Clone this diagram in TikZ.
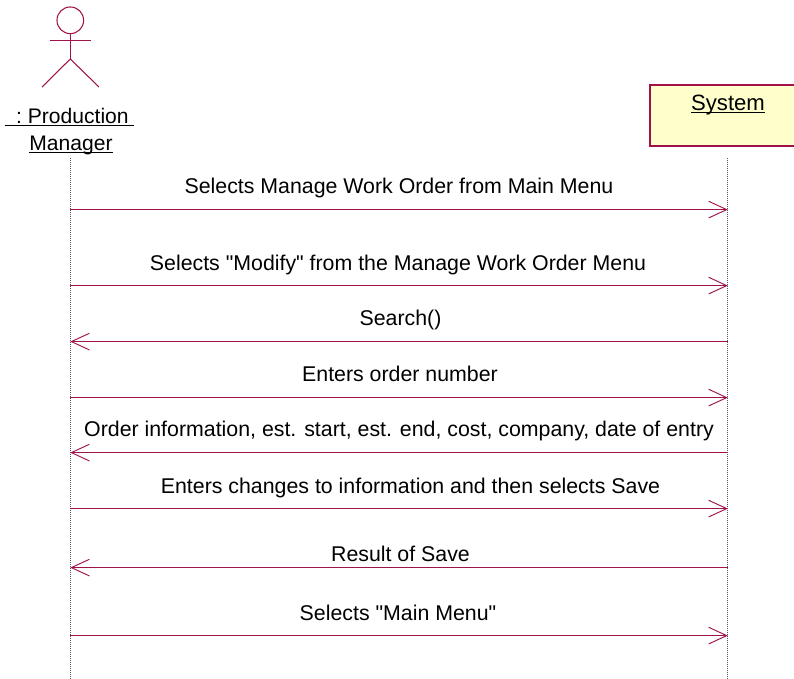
\documentclass[tikz,border=0pt]{standalone}
\usepackage{fontspec}
\newfontfamily\umlfont{Liberation Sans}
\usetikzlibrary{arrows.meta,calc}
\definecolor{umlred}{HTML}{A0134A}
\definecolor{boxfill}{HTML}{FFFFCC}
\definecolor{lifegray}{HTML}{555555}
\tikzset{
  x=0.75pt,y=-0.75pt,
  umlline/.style={draw=umlred,line width=0.8pt},
  lifeline/.style={draw=lifegray,line width=0.7pt,dash pattern=on 0.75pt off 0.75pt},
  msg/.style={draw=umlred,line width=0.8pt,-{Straight Barb[length=13.5pt,width=12.5pt,line width=0.7pt]}},
  msglabel/.style={font=\umlfont\fontsize{16pt}{18pt}\selectfont,inner sep=0pt,anchor=base},
  headlabel/.style={font=\umlfont\fontsize{15.8pt}{18pt}\selectfont,inner sep=0pt,anchor=base,align=center},
}
\begin{document}
\begin{tikzpicture}
\useasboundingbox (0,0) rectangle (794,679);
% actor
\node[circle,umlline,minimum size=20pt,inner sep=0pt] (head) at (70.3,20.3) {};
\coordinate (neck) at (head.south);
\coordinate (hip) at (70.3,59);
\coordinate (armL) at (50,40.5);
\coordinate (armR) at (91,40.5);
\coordinate (legL) at (42,87);
\coordinate (legR) at (99,87);
\draw[umlline] (neck) -- (hip);
\draw[umlline] (armL) -- (armR);
\draw[umlline] (legL) -- (hip) -- (legR);
\node[headlabel] (pm1) at (69.5,123) {\underline{\smash{\ \ :\ Production\ }}};
\node[headlabel] (pm2) at (71,150) {\underline{\smash{Manager}}};
% system box
\path[fill=boxfill] (650,85) rectangle (800,146);
\draw[umlline,line width=1pt] (800,85) -- (650,85) -- (650,146) -- (800,146);
\node[headlabel,font=\umlfont\fontsize{16.6pt}{18pt}\selectfont] (sys) at (728,110) {\underline{\smash{System}}};
% lifelines
\coordinate (a0) at (70.3,158);
\coordinate (a1) at (70.3,679);
\coordinate (s0) at (727.8,158);
\coordinate (s1) at (727.8,679);
\draw[lifeline] (a0) -- (a1);
\draw[lifeline] (s0) -- (s1);
% messages
\foreach \n/\y in {1/209.6,2/285.6,3/341.6,4/397.6,5/452.6,6/508.6,7/567.6,8/635.6}{
  \coordinate (A\n) at (70.3,\y);
  \coordinate (S\n) at (727.8,\y);
}
\draw[msg] (A1) -- (S1);
\draw[msg] (A2) -- (S2);
\draw[msg] (S3) -- (A3);
\draw[msg] (A4) -- (S4);
\draw[msg] (S5) -- (A5);
\draw[msg] (A6) -- (S6);
\draw[msg] (S7) -- (A7);
\draw[msg] (A8) -- (S8);
\node[msglabel] (m1) at (399,193) {Selects Manage Work Order from Main Menu};
\node[msglabel] (m2) at (398,270) {Selects "Modify" from the Manage Work Order Menu};
\node[msglabel] (m3) at (400.5,325) {Search()};
\node[msglabel] (m4) at (400,381) {Enters order number};
\node[msglabel] (m5) at (399,436) {Order information, est. start, est. end, cost, company, date of entry};
\node[msglabel] (m6) at (410.5,493) {Enters changes to information and then selects Save};
\node[msglabel] (m7) at (400.5,561) {Result of Save};
\node[msglabel] (m8) at (398,620) {Selects "Main Menu"};
\end{tikzpicture}
\end{document}
